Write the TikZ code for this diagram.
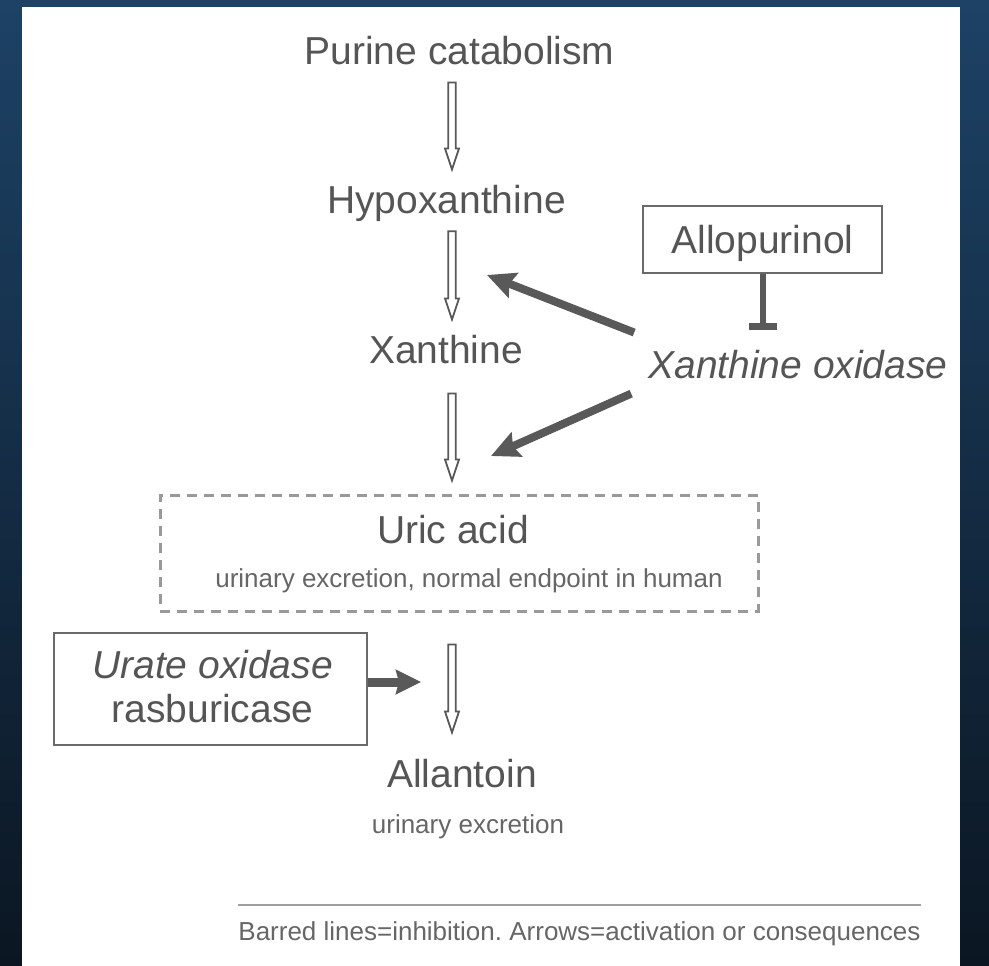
\documentclass[tikz,border=0pt]{standalone}
\usepackage{fontspec}
\setmainfont{Liberation Sans}
\usetikzlibrary{arrows.meta,calc}
\definecolor{txt}{HTML}{555555}
\definecolor{subtxt}{HTML}{666666}
\definecolor{boxc}{HTML}{6A6A6A}
\definecolor{arrc}{HTML}{595959}
\definecolor{bgtop}{HTML}{1D4266}
\definecolor{bgbot}{HTML}{0B1622}
\newcommand\bigfnt{\fontsize{39}{44}\selectfont}
\newcommand\smallfnt{\fontsize{26}{30}\selectfont}
\frenchspacing
\begin{document}
\begin{tikzpicture}[x=1pt,y=-1pt,
  lbl/.style={inner sep=0pt, text=txt, font=\bigfnt},
  sublbl/.style={inner sep=0pt, text=subtxt, font=\smallfnt},
  plainbox/.style={draw=boxc, line width=2.5pt, inner sep=0pt},
  dashbox/.style={draw=gray!80, line width=3pt, dash pattern=on 10pt off 7pt, inner sep=0pt},
  hollowarrow/.style 2 args={draw=arrc, line width=1.8pt, line join=miter,
    to path={let \p1=(\tikztostart.south), \p2=(\tikztotarget.north) in
      ({448.3pt},{\y1-#1}) -- ({455.7pt},{\y1-#1}) -- ({455.7pt},{\y2+#2+21pt})
      -- ({459pt},{\y2+#2+21pt}) -- ({452pt},{\y2+#2}) -- ({445pt},{\y2+#2+21pt})
      -- ({448.3pt},{\y2+#2+21pt}) -- cycle}},
  thickarrow/.style={draw=arrc, line width=8pt, -{Stealth[length=28pt,width=26pt,inset=4pt]}},
  inhib/.style={draw=arrc, line width=6pt, -{Bar[width=28pt,line width=7pt]}}
]
\useasboundingbox (0,0) rectangle (989,966);
\shade[top color=bgtop, bottom color=bgbot] (0,0) rectangle (989,966);
\fill[white] (22,7) rectangle (960,966);

% main chain
\node[lbl, anchor=base] (pur) at (459.5,65) {Purine catabolism};
\node[lbl, anchor=base] (hyp) at (446.5,213) {Hypoxanthine};
\node[lbl, anchor=base] (xan) at (446,363) {Xanthine};
\node[dashbox, minimum width=598pt, minimum height=116pt] (ubox) at (459,553) {};
\node[lbl, anchor=base] (uric) at (453,543) {Uric acid};
\node[sublbl, anchor=base] (uricsub) at (469,587) {urinary excretion, normal endpoint in human};
\node[lbl, anchor=base] (alla) at (462,787) {Allantoin};
\node[sublbl, anchor=base] (allasub) at (468,833) {urinary excretion};

\draw[hollowarrow={17pt}{15pt}] (pur) to (hyp);
\draw[hollowarrow={10pt}{15pt}] (hyp) to (xan);
\draw[hollowarrow={30pt}{13pt}] (xan) to (ubox);
\draw[hollowarrow={32pt}{26pt}] (ubox) to (alla);

% allopurinol / xanthine oxidase
\node[plainbox, lbl, draw=boxc, minimum width=239pt, minimum height=67pt, text height=28pt, text depth=0pt] (allo) at (762.5,239.5) {Allopurinol};
\node[lbl, anchor=base, font=\bigfnt\itshape] (xo) at (798,378) {Xanthine oxidase};
\coordinate (bar) at (762.5,330);
\draw[inhib] (allo.south) -- (bar);

\coordinate (t1) at (487,275);
\coordinate (t2) at (491,456);
\draw[thickarrow] ([shift={(-14,-17)}]xo.north west) -- (t1);
\draw[thickarrow] ([shift={(-17,15)}]xo.south west) -- (t2);

% urate oxidase
\node[plainbox, minimum width=313pt, minimum height=112pt] (uo) at (210.5,689) {};
\node[lbl, anchor=base, font=\bigfnt\itshape] (uo1) at (212.5,678) {Urate oxidase};
\node[lbl, anchor=base] (uo2) at (212.5,722) {rasburicase};
\coordinate (t3) at (421,682);
\draw[thickarrow, line width=9pt, -{Stealth[length=25pt,width=24pt,inset=3pt]}] (uo.east |- t3) -- (t3);

% legend
\node[sublbl, anchor=base, text height=19pt, inner ysep=16pt] (leg) at (579.5,940) {Barred lines=inhibition. Arrows=activation or consequences};
\draw[draw=gray!75, line width=1.5pt] (leg.north west) -- (leg.north east);
\end{tikzpicture}
\end{document}
